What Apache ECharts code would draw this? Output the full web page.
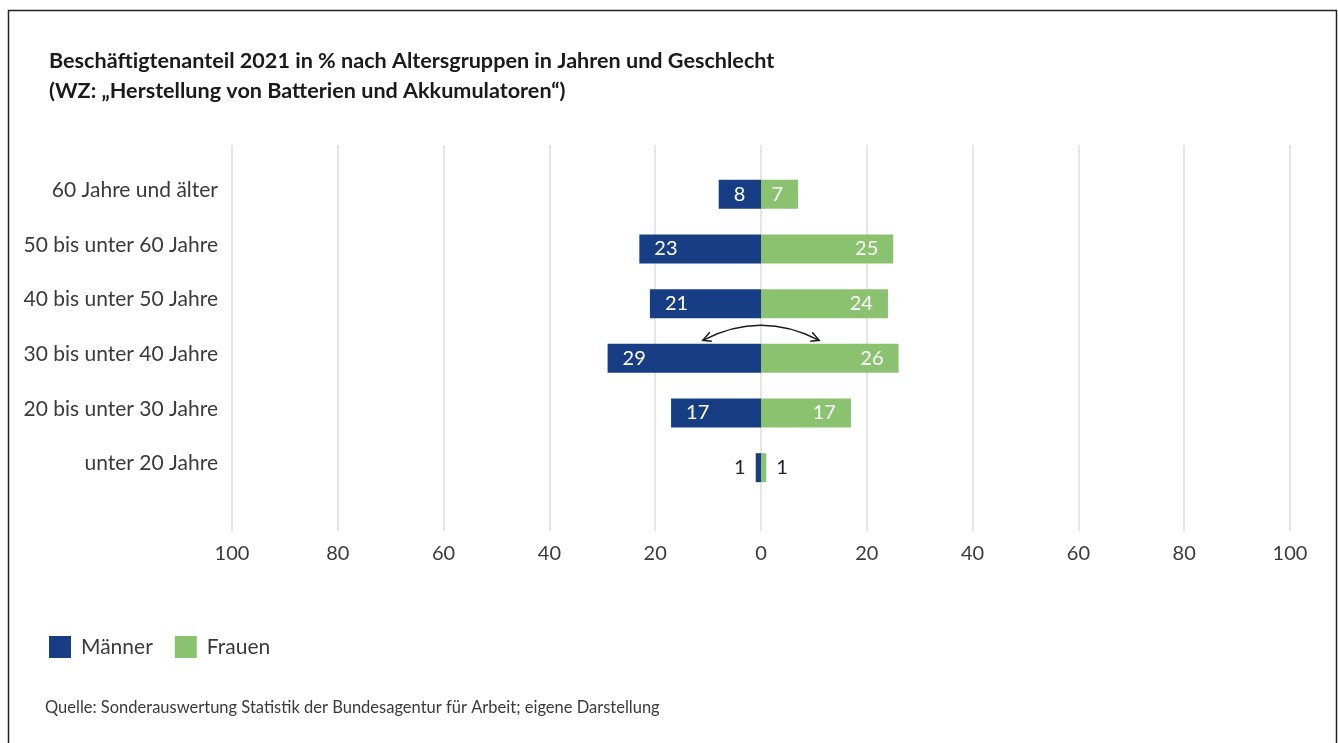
<!DOCTYPE html>
<html>
<head>
<meta charset="utf-8">
<script src="https://cdn.jsdelivr.net/npm/echarts@6/dist/echarts.min.js"></script>
<style>
  html, body { margin: 0; padding: 0; background: #fff; }
  #chart { width: 1338px; height: 743px; }
</style>
</head>
<body>
<div id="chart"></div>
<script>
// Age groups, listed top to bottom
const categories = [
  '60 Jahre und älter',
  '50 bis unter 60 Jahre',
  '40 bis unter 50 Jahre',
  '30 bis unter 40 Jahre',
  '20 bis unter 30 Jahre',
  'unter 20 Jahre'
];
// Share of employees in %
const maenner = [8, 23, 21, 29, 17, 1];
const frauen = [7, 25, 24, 26, 17, 1];
// Axis ticks (absolute percent, shown on both sides of zero)
const axisMin = -100;
const axisMax = 100;
const axisStep = 20;

const FONT = 'Lato, "Open Sans", sans-serif';
const BLUE = '#173e84';
const GREEN = '#8bc270';
const TEXT = '#3a3a3a';

const chart = echarts.init(document.getElementById('chart'), null, { renderer: 'canvas' });

function barLabel(v, side) {
  // small bars carry their number outside the bar
  if (v < 3) {
    return {
      show: true,
      position: side === 'left' ? 'left' : 'right',
      distance: 10,
      color: '#222',
      fontSize: 20,
      fontFamily: FONT
    };
  }
  return {
    show: true,
    position: side === 'left' ? 'insideLeft' : 'insideRight',
    distance: 15,
    color: '#ffffff',
    fontSize: 20,
    fontFamily: FONT
  };
}

const option = {
  backgroundColor: '#ffffff',
  animation: false,
  title: {
    text: 'Beschäftigtenanteil 2021 in % nach Altersgruppen in Jahren und Geschlecht\n(WZ: \u201EHerstellung von Batterien und Akkumulatoren\u201C)',
    left: 44,
    top: 41,
    textStyle: {
      fontFamily: FONT,
      fontWeight: 'bold',
      fontSize: 21.6,
      lineHeight: 30,
      color: '#1a1a1a'
    }
  },
  legend: {
    left: 44,
    top: 631,
    icon: 'rect',
    itemWidth: 22,
    itemHeight: 22,
    itemGap: 22,
    data: ['Männer', 'Frauen'],
    textStyle: {
      fontFamily: FONT,
      fontSize: 21,
      color: TEXT,
      padding: [0, 0, 0, 5]
    }
  },
  graphic: [
    {
      id: 'frame',
      type: 'rect',
      silent: true,
      shape: { x: 8.5, y: 10.5, width: 1328, height: 760 },
      style: { fill: 'none', stroke: '#222', lineWidth: 1.5 },
      z: 10
    },
    {
      id: 'source',
      type: 'text',
      left: 45,
      top: 699,
      style: {
        text: 'Quelle: Sonderauswertung Statistik der Bundesagentur für Arbeit; eigene Darstellung',
        font: 'normal 16.5px ' + FONT,
        fill: TEXT
      }
    }
  ],
  grid: [
    // grid for the vertical reference lines and the percent scale
    { left: 232, right: 48, top: 145, bottom: 212, containLabel: false },
    // grid holding the bars
    { left: 232, right: 48, top: 167, height: 328, containLabel: false }
  ],
  xAxis: [
    {
      gridIndex: 0,
      type: 'value',
      min: axisMin,
      max: axisMax,
      interval: axisStep,
      axisLine: { show: false },
      axisTick: { show: false },
      splitLine: { show: true, lineStyle: { color: '#dcdcdc', width: 1.5 } },
      axisLabel: {
        margin: 13,
        fontFamily: FONT,
        fontSize: 20,
        color: TEXT,
        formatter: v => String(Math.abs(v))
      }
    },
    {
      gridIndex: 1,
      type: 'value',
      min: axisMin,
      max: axisMax,
      show: false
    }
  ],
  yAxis: [
    {
      gridIndex: 0,
      type: 'category',
      data: categories,
      show: false
    },
    {
      gridIndex: 1,
      type: 'category',
      data: categories,
      inverse: true,
      axisLine: { show: false },
      axisTick: { show: false },
      splitLine: { show: false },
      axisLabel: {
        margin: 14,
        fontFamily: FONT,
        fontSize: 21,
        color: TEXT,
        verticalAlign: 'bottom',
        lineHeight: 8
      }
    }
  ],
  series: [
    {
      name: 'Männer',
      type: 'bar',
      xAxisIndex: 1,
      yAxisIndex: 1,
      barWidth: 29,
      barGap: '-100%',
      itemStyle: { color: BLUE },
      data: maenner.map(v => ({ value: -v, label: barLabel(v, 'left') })),
      label: { formatter: p => String(Math.abs(p.value)) }
    },
    {
      name: 'Frauen',
      type: 'bar',
      xAxisIndex: 1,
      yAxisIndex: 1,
      barWidth: 29,
      barGap: '-100%',
      itemStyle: { color: GREEN },
      data: frauen.map(v => ({ value: v, label: barLabel(v, 'right') })),
      label: { formatter: p => String(Math.abs(p.value)) }
    }
  ]
};

chart.setOption(option);

// Curved double arrow above the 30-40 age group, linking both sides
(function drawArrow() {
  const row = categories[3];
  const pl = chart.convertToPixel({ xAxisIndex: 1, yAxisIndex: 1 }, [-11, row]);
  const pr = chart.convertToPixel({ xAxisIndex: 1, yAxisIndex: 1 }, [11, row]);
  const pc = chart.convertToPixel({ xAxisIndex: 1, yAxisIndex: 1 }, [0, row]);
  const yTip = pl[1] - 18;
  const x1 = pl[0], x2 = pr[0], xc = pc[0];
  const cy = yTip - 30;
  const head = 7;
  const stroke = { stroke: '#1a1a1a', lineWidth: 1.5, fill: null };
  chart.setOption({
    graphic: [
      {
        id: 'arrowCurve',
        type: 'bezierCurve',
        silent: true,
        shape: { x1: x1, y1: yTip, x2: x2, y2: yTip, cpx1: xc, cpy1: cy },
        style: stroke,
        z: 20
      },
      {
        id: 'arrowHeadLeft',
        type: 'polyline',
        silent: true,
        shape: { points: [[x1 + head, yTip - head - 1], [x1, yTip], [x1 + head + 2, yTip + 1]] },
        style: stroke,
        z: 20
      },
      {
        id: 'arrowHeadRight',
        type: 'polyline',
        silent: true,
        shape: { points: [[x2 - head, yTip - head - 1], [x2, yTip], [x2 - head - 2, yTip + 1]] },
        style: stroke,
        z: 20
      }
    ]
  });
})();
</script>
</body>
</html>
